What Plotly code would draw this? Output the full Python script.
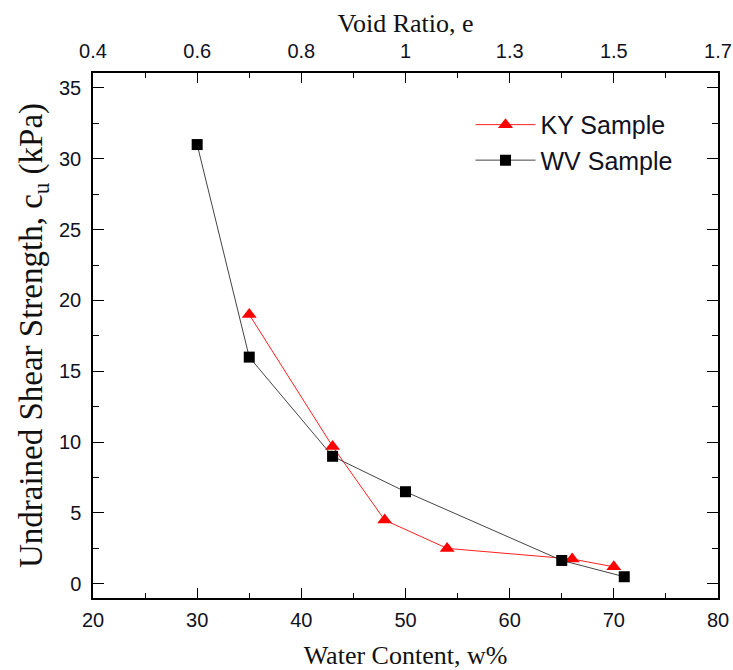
import plotly.graph_objects as go

# Water content (w%) and undrained shear strength c_u (kPa)
ky_water = [35, 43, 48, 54, 66, 70]
ky_cu = [19, 9.7, 4.5, 2.5, 1.75, 1.2]

wv_water = [30, 35, 43, 50, 65, 71]
wv_cu = [31, 16, 9, 6.5, 1.65, 0.5]

# Bottom axis ticks and the matching void-ratio labels on the top axis
water_ticks = [20, 30, 40, 50, 60, 70, 80]
void_ratio_labels = ["0.4", "0.6", "0.8", "1", "1.3", "1.5", "1.7"]
cu_ticks = [0, 5, 10, 15, 20, 25, 30, 35]

SANS = "Liberation Sans, Arial, sans-serif"
SERIF = "Liberation Serif, Times New Roman, serif"
TICK_COLOR = "#111122"

fig = go.Figure()

fig.add_trace(go.Scatter(
    x=ky_water, y=ky_cu, name="KY Sample", mode="lines+markers",
    line=dict(color="#ff2020", width=1),
    marker=dict(symbol="triangle-up", size=13, color="#ff0000"),
))
# The WV series is placed on the top (void-ratio) axis, which shares the
# same 20-80 water-content range, so the top axis gets drawn.
fig.add_trace(go.Scatter(
    x=wv_water, y=wv_cu, name="WV Sample", mode="lines+markers",
    xaxis="x2",
    line=dict(color="#444444", width=1),
    marker=dict(symbol="square", size=11, color="#000000"),
))

axis_common = dict(
    showline=True, linecolor="black", linewidth=1.5,
    ticks="inside", tickcolor="black", tickwidth=1.3,
    showgrid=False, zeroline=False, automargin=False,
    tickfont=dict(family=SANS, size=20, color=TICK_COLOR),
)
minor_x = dict(dtick=5, ticklen=5, ticks="inside", tickcolor="black", tickwidth=1.3)

fig.update_layout(
    width=733, height=670,
    margin=dict(l=93, r=15, t=73, b=72),
    paper_bgcolor="white", plot_bgcolor="white",
    showlegend=True,
    legend=dict(
        x=0.604, y=0.945, xanchor="left", yanchor="top",
        font=dict(family=SANS, size=25, color=TICK_COLOR),
        bgcolor="rgba(0,0,0,0)", itemwidth=60, tracegroupgap=0,
    ),
    xaxis=dict(
        **axis_common,
        range=[20, 80], tickvals=water_ticks, ticklen=10,
        minor=minor_x,
        ticklabelstandoff=3,
        title=dict(text="Water Content, w%", font=dict(family=SERIF, size=26, color="#111"),
                   standoff=18),
    ),
    xaxis2=dict(
        **axis_common,
        overlaying="x", side="top", anchor="y",
        range=[20, 80], tickvals=water_ticks, ticktext=void_ratio_labels, ticklen=10,
        minor=minor_x,
        ticklabelstandoff=5,
        title=dict(text="Void Ratio, e", font=dict(family=SERIF, size=26, color="#111"),
                   standoff=0),
    ),
    yaxis=dict(
        **axis_common,
        mirror="ticks",
        range=[-1, 36.05], tickvals=cu_ticks, ticklen=11,
        minor=dict(dtick=2.5, ticklen=6, ticks="inside", tickcolor="black", tickwidth=1.3),
        ticklabelstandoff=6,
        title=dict(text="Undrained Shear Strength, c<sub>u</sub> (kPa)",
                   font=dict(family=SERIF, size=33, color="#111"), standoff=6),
    ),
)

fig.write_html("out.html")
